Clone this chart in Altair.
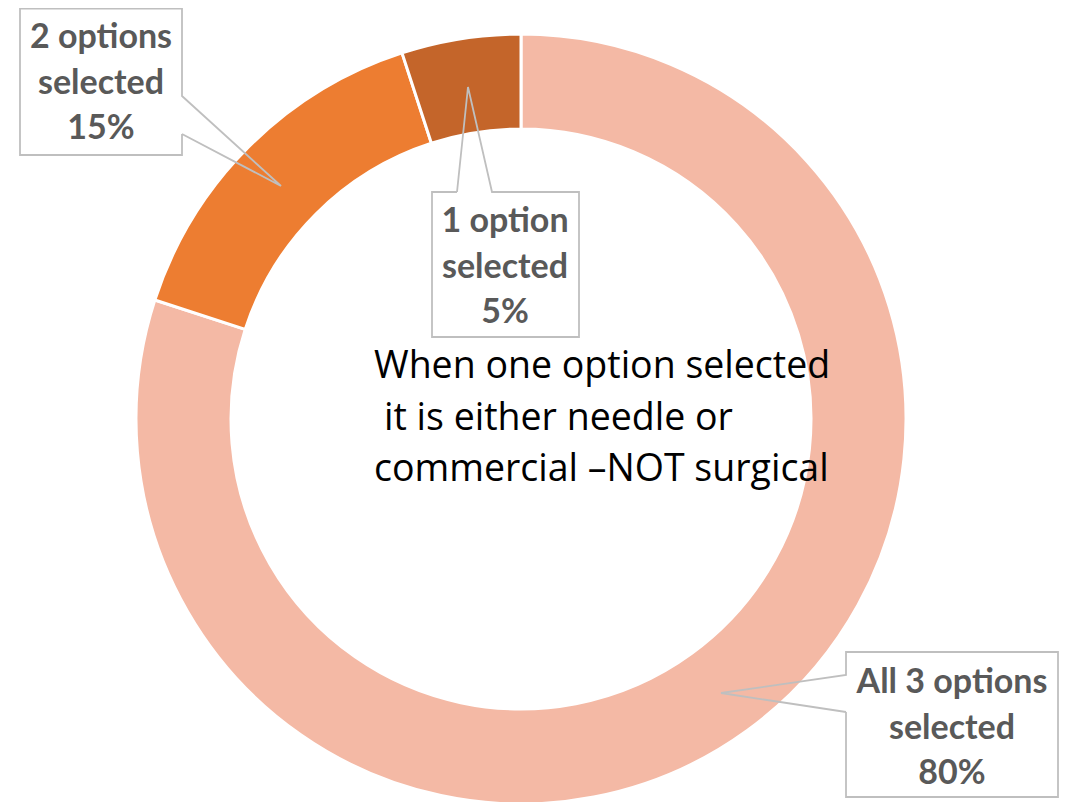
import altair as alt
import pandas as pd

# ---- data ----
categories = ["All 3 options", "2 options", "1 option"]
values = [80, 15, 5]
colors = ["#F4B9A5", "#ED7D31", "#C4652A"]
note_lines = ["When one option selected", "it is either needle or", "commercial \u2013NOT surgical"]

# ---- layout (page pixels; page margin 8px) ----
M = 8
CX, CY = 521, 419
R_OUT, R_IN = 385, 290

# callout outline paths (closed polylines), one per category
callout_paths = [
    [(846, 712), (721, 693), (846, 675), (846, 652), (1058, 652), (1058, 797), (846, 797), (846, 712)],
    [(182, 134), (281, 186), (182, 96), (182, 8.5), (20, 8.5), (20, 155), (182, 155), (182, 134)],
    [(457, 192), (468, 87), (492, 192), (579, 192), (579, 337), (432, 337), (432, 192), (457, 192)],
]
label_first_line = [(952, 683), (101, 38), (505, 222)]
note_x = [374, 384, 374]
note_y = [367, 418.5, 470]

W, H = 1052, 794

pie_df = pd.DataFrame({"category": categories, "value": values, "idx": list(range(len(categories)))})

path_rows = []
for cat, pts in zip(categories, callout_paths):
    for k, (px, py) in enumerate(pts):
        path_rows.append({"category": cat, "k": k, "px": px - M, "py": py - M})
path_df = pd.DataFrame(path_rows)

label_df = pd.DataFrame({
    "label": [f"{c}\nselected\n{v}%" for c, v in zip(categories, values)],
    "lx": [p[0] - M for p in label_first_line],
    "ly": [p[1] - M for p in label_first_line],
})

note_df = pd.DataFrame({
    "note": note_lines,
    "nx": [x - M for x in note_x],
    "ny": [y - M for y in note_y],
})

donut = alt.Chart(pie_df).mark_arc(
    innerRadius=R_IN, radius=R_OUT, stroke="white", strokeWidth=3
).encode(
    theta=alt.Theta("value:Q", stack=True),
    color=alt.Color("category:N", scale=alt.Scale(domain=categories, range=colors), legend=None),
    order=alt.Order("idx:Q"),
    x=alt.value(CX - M),
    y=alt.value(CY - M),
)

callouts = alt.Chart(path_df).mark_line(color="#BFBFBF", strokeWidth=1.8).encode(
    x=alt.X("px:Q", scale=None),
    y=alt.Y("py:Q", scale=None),
    detail="category:N",
    order="k:Q",
)

labels = alt.Chart(label_df).mark_text(
    font="Lato", fontWeight="bold", fontSize=34, color="#595959",
    lineBreak="\n", lineHeight=45.5, align="center", baseline="middle",
).encode(
    x=alt.X("lx:Q", scale=None),
    y=alt.Y("ly:Q", scale=None),
    text="label:N",
)

note = alt.Chart(note_df).mark_text(
    font="Open Sans", fontSize=37.5, color="#000000",
    align="left", baseline="middle",
).encode(
    x=alt.X("nx:Q", scale=None),
    y=alt.Y("ny:Q", scale=None),
    text="note:N",
)

chart = alt.layer(donut, callouts, labels, note).properties(
    width=W, height=H, autosize=alt.AutoSizeParams(type="none"), padding=0
).configure_view(stroke=None)

chart.save("out.html", embed_options={"renderer": "svg", "actions": False})
